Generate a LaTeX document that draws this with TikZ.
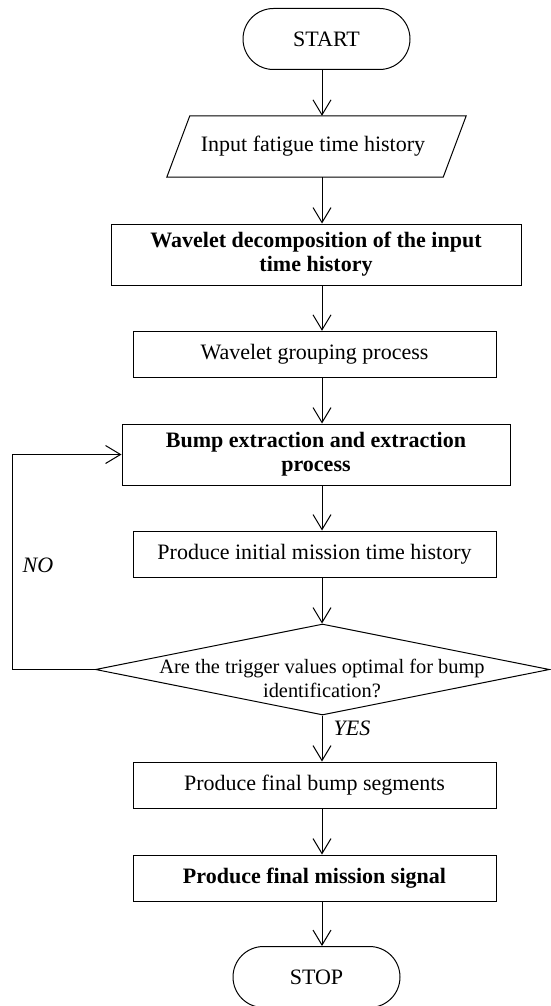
\documentclass[tikz,border=0pt]{standalone}
\usepackage{fontspec}
\setmainfont{Liberation Serif}
\usetikzlibrary{arrows.meta,shapes.geometric,calc}
\begin{document}
\begin{tikzpicture}[x=1pt,y=-1pt,
  every node/.style={font=\fontsize{22}{24}\selectfont, align=center, inner sep=0pt},
  boxnode/.style={draw, line width=1pt, rectangle, minimum width=363pt, minimum height=46pt},
  termnode/.style={draw, line width=1pt, rectangle, rounded corners=30.5pt, minimum width=167pt, minimum height=61pt},
  arr/.style={line width=1pt, -{Straight Barb[length=15pt,width=18pt,line width=1pt]}},
  lbl/.style={font=\fontsize{22}{24}\selectfont\itshape}
]
\useasboundingbox (0,0) rectangle (551,1006);
\coordinate (ax) at (322,0);
\coordinate (lx) at (12,0);

\node[termnode] (start) at (326.5,39) {START};

\node[minimum width=276pt, minimum height=61pt] (inp) at (316.5,146.5) {};
\draw[line width=1pt] ($(inp.south west)+(-11.5,0)$) -- ($(inp.south east)+(-11.5,0)$)
  -- ($(inp.north east)+(11.5,0)$) -- ($(inp.north west)+(11.5,0)$) -- cycle;
\node at (313,146.5) {Input fatigue time history};

\node[boxnode, minimum width=410pt, minimum height=61pt, font=\fontsize{22}{24}\selectfont\bfseries] (wdec) at (316,254.5) {Wavelet decomposition of the input\\time history};

\node[boxnode] (wgrp) at (314.5,354.3) {Wavelet grouping process};

\node[boxnode, minimum width=388pt, minimum height=61pt, font=\fontsize{22}{24}\selectfont\bfseries] (bump) at (316,454.5) {Bump extraction and extraction\\process};

\node[boxnode] (init) at (314.5,554) {Produce initial mission time history};

\node[draw, line width=1pt, diamond, minimum width=454pt, minimum height=91pt] (dec) at (322.5,669.5) {};
\node[font=\fontsize{20.4}{24}\selectfont] (dtext) at (322,678) {Are the trigger values optimal for bump\\identification?};

\node[boxnode] (fbump) at (314.5,785) {Produce final bump segments};

\node[boxnode, font=\fontsize{22}{24}\selectfont\bfseries] (fmis) at (314.5,878) {Produce final mission signal};

\node[termnode] (stop) at (316.5,977) {STOP};

\draw[arr] (start.south -| ax) -- (inp.north -| ax);
\draw[arr] (inp.south -| ax) -- (wdec.north -| ax);
\draw[arr] (wdec.south -| ax) -- (wgrp.north -| ax);
\draw[arr] (wgrp.south -| ax) -- (bump.north -| ax);
\draw[arr] (bump.south -| ax) -- (init.north -| ax);
\draw[arr] (init.south -| ax) -- (dec.north -| ax);
\draw[arr] (dec.south -| ax) -- (fbump.north -| ax);
\draw[arr] (fbump.south -| ax) -- (fmis.north -| ax);
\draw[arr] (fmis.south -| ax) -- (stop.north -| ax);

\draw[arr] (dec.west) -- (dec.west -| lx) |- (bump.west);

\node[lbl] (no) at (38,565) {NO};
\node[lbl] (yes) at (352,728) {YES};
\end{tikzpicture}
\end{document}
